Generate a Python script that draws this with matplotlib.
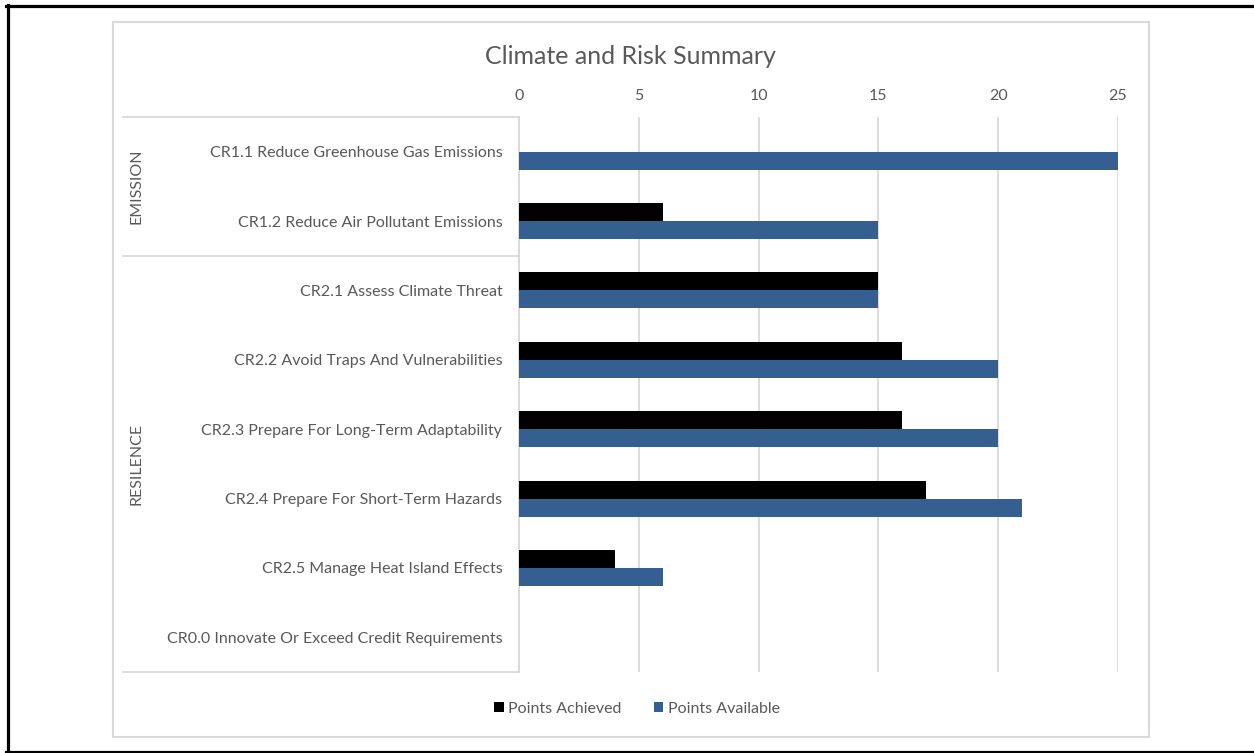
import matplotlib.pyplot as plt
import matplotlib.lines as mlines
import matplotlib.patches as mpatches
import numpy as np

plt.rcParams['font.family'] = ['Lato', 'DejaVu Sans']

categories = ["CR1.1 Reduce Greenhouse Gas Emissions",
              "CR1.2 Reduce Air Pollutant Emissions",
              "CR2.1 Assess Climate Threat",
              "CR2.2 Avoid Traps And Vulnerabilities",
              "CR2.3 Prepare For Long-Term Adaptability",
              "CR2.4 Prepare For Short-Term Hazards",
              "CR2.5 Manage Heat Island Effects",
              "CR0.0 Innovate Or Exceed Credit Requirements"]
groups = ["EMISSION", "RESILENCE"]
group_sizes = [2, 6]
achieved = [0, 6, 15, 16, 16, 17, 4, 0]
available = [25, 15, 15, 20, 20, 21, 6, 0]
xticks = [0, 5, 10, 15, 20, 25]

W, H = 1254, 753
txt = '#595959'
grid_c = '#d9d9d9'
blue = '#355f91'
fs = 11.5

fig = plt.figure(figsize=(W / 100, H / 100), dpi=100)

def fx(px):
    return px / W

def fy(py):
    return 1 - py / H

# outer black frame (left, top, bottom)
for xs, ys in [([7.5, 7.5], [5, 753]), ([6, W], [5.5, 5.5]), ([6, W], [751.5, 751.5])]:
    fig.add_artist(mlines.Line2D([fx(x) for x in xs], [fy(y) for y in ys], color='black', lw=2.3))

# chart area border
fig.add_artist(mpatches.Rectangle((fx(113), fy(737)), fx(1149) - fx(113), fy(22) - fy(737),
                                  fill=False, ec=grid_c, lw=1.5))

left, right, top, bottom = 519, 1118, 117, 672
ax = fig.add_axes([fx(left), fy(bottom), fx(right) - fx(left), fy(top) - fy(bottom)])

y = np.arange(len(categories))
h = 0.26
ax.barh(y - h / 2, achieved, height=h, color='black', label='Points Achieved', zorder=3)
ax.barh(y + h / 2, available, height=h, color=blue, label='Points Available', zorder=3)

ax.set_xlim(0, 25)
ax.set_ylim(len(categories) - 0.5, -0.5)
ax.set_xticks(xticks)
ax.xaxis.tick_top()
ax.tick_params(axis='x', length=0, pad=10, labelsize=fs, labelcolor=txt)
ax.tick_params(axis='y', length=0, pad=12, labelsize=fs, labelcolor=txt)
ax.set_yticks(y)
ax.set_yticklabels(categories)
ax.grid(axis='x', color=grid_c, lw=1.3, zorder=0)
for s in ['top', 'right', 'bottom']:
    ax.spines[s].set_visible(False)
ax.spines['left'].set_color(grid_c)
ax.spines['left'].set_linewidth(1.3)

# multi-level category separators and group labels
x_box = (123 - left) / (right - left)
start = 0
bounds = [-0.5]
for g, n in zip(groups, group_sizes):
    start += n
    bounds.append(start - 0.5)
for b in bounds:
    ax.plot([x_box, 0], [b, b], transform=ax.get_yaxis_transform(), color=grid_c,
            lw=1.3, clip_on=False)
x_grp = (137 - left) / (right - left)
start = 0
for g, n in zip(groups, group_sizes):
    ax.text(x_grp, start + (n - 1) / 2, g, transform=ax.get_yaxis_transform(), rotation=90,
            ha='center', va='center', fontsize=fs, color=txt)
    start += n

fig.text(fx(630), fy(57), 'Climate and Risk Summary', ha='center', va='center',
         fontsize=18, color=txt)

fig.legend(loc='center', bbox_to_anchor=(fx(637), fy(709)), ncol=2, frameon=False,
           handlelength=0.6, handleheight=0.6, handletextpad=0.3, columnspacing=2.0,
           fontsize=fs, labelcolor=txt)

fig.savefig('out.png', dpi=100)
